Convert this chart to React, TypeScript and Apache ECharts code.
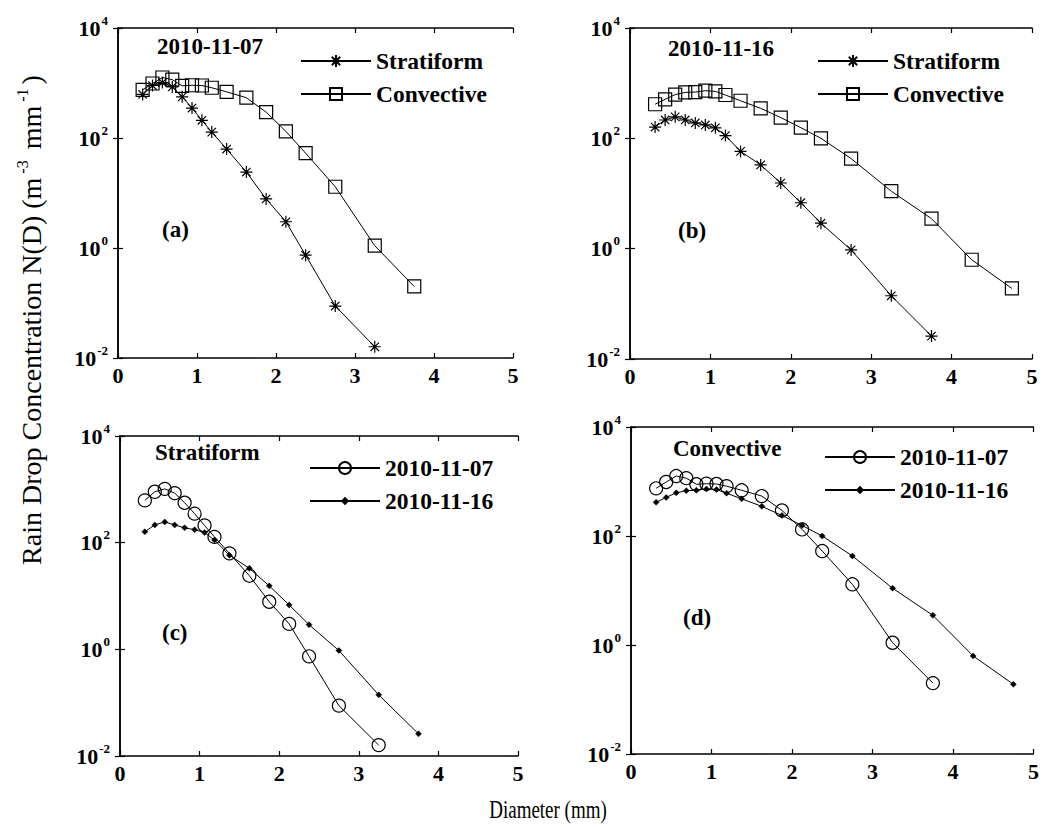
import React, { useEffect, useRef } from "react";
import * as echarts from "echarts";

// Drop diameter bin centres (mm)
const diameters = [0.312, 0.437, 0.562, 0.687, 0.812, 0.937, 1.062, 1.187, 1.375, 1.625, 1.875, 2.125, 2.375, 2.75, 3.25, 3.75, 4.25, 4.75];

// N(D) values (m^-3 mm^-1)
const strat1107 = [620, 900, 1020, 850, 560, 350, 210, 128, 63, 24, 7.8, 3.0, 0.74, 0.088, 0.016];
const conv1107 = [750, 980, 1260, 1150, 890, 910, 900, 820, 690, 540, 295, 132, 53, 13, 1.1, 0.2];
const strat1116 = [160, 215, 245, 215, 190, 175, 155, 112, 58, 33, 15.5, 6.8, 2.9, 0.95, 0.14, 0.026];
const conv1116 = [415, 510, 620, 680, 690, 730, 710, 610, 480, 350, 238, 156, 100, 43, 11, 3.5, 0.63, 0.19];

const panelLabels = ["(a)", "(b)", "(c)", "(d)"];
const panelTitles = ["2010-11-07", "2010-11-16", "Stratiform", "Convective"];

const FONT = "'Liberation Serif', 'Times New Roman', serif";
const STAR = "path://M5 0L5 10M0 5L10 5M1.5 1.5L8.5 8.5M1.5 8.5L8.5 1.5";

const pairs = (vals: number[]) => vals.map((v, i) => [diameters[i], v]);

const grids = [
  { left: 118, top: 28, width: 395, height: 330 },
  { left: 630, top: 28, width: 402, height: 331 },
  { left: 120, top: 436, width: 398, height: 320 },
  { left: 631, top: 427, width: 404, height: 327 },
];

const styles: Record<string, any> = {
  star: { symbol: STAR, symbolSize: 12, itemStyle: { color: "none", borderColor: "#000", borderWidth: 1.2 } },
  square: { symbol: "rect", symbolSize: 13, itemStyle: { color: "none", borderColor: "#000", borderWidth: 1.2 } },
  circle: { symbol: "circle", symbolSize: 13, itemStyle: { color: "none", borderColor: "#000", borderWidth: 1.2 } },
  dot: { symbol: "diamond", symbolSize: 6, itemStyle: { color: "#000", borderColor: "#000", borderWidth: 0.5 } },
};

export default function App() {
  const ref = useRef<HTMLDivElement>(null);
  useEffect(() => {
    if (!ref.current) return;
    const chart = echarts.init(ref.current, undefined, { renderer: "svg" });

    const xAxis: any[] = [];
    const yAxis: any[] = [];
    grids.forEach((_, g) => {
      const base = {
        gridIndex: g,
        type: "value",
        min: 0,
        max: 5,
        interval: 1,
        axisLine: { show: true, lineStyle: { color: "#000", width: 1.5 } },
        axisTick: { show: true, inside: true, length: 5, lineStyle: { color: "#000", width: 1.2 } },
        splitLine: { show: false },
      };
      xAxis.push({
        ...base,
        position: "bottom",
        axisLabel: { show: true, margin: 6, color: "#000", fontFamily: FONT, fontWeight: "bold", fontSize: 22 },
      });
      xAxis.push({ ...base, position: "top", axisLabel: { show: false } });
      const ybase = {
        gridIndex: g,
        type: "log",
        logBase: 10,
        min: 0.01,
        max: 10000,
        interval: 2,
        axisLine: { show: true, lineStyle: { color: "#000", width: 1.5 } },
        axisTick: { show: true, inside: true, length: 5, lineStyle: { color: "#000", width: 1.2 } },
        splitLine: { show: false },
        minorTick: { show: false },
      };
      yAxis.push({
        ...ybase,
        position: "left",
        axisLabel: {
          show: true,
          margin: 10,
          color: "#000",
          formatter: (v: number) => `{b|10}{s|${Math.round(Math.log10(v))}}`,
          rich: {
            b: { fontFamily: FONT, fontWeight: "bold", fontSize: 22, color: "#000" },
            s: { fontFamily: FONT, fontWeight: "bold", fontSize: 13, color: "#000", padding: [0, 0, 16, 1] },
          },
        },
      });
      yAxis.push({ ...ybase, position: "right", axisLabel: { show: false } });
    });

    const mk = (name: string, vals: number[], g: number, st: string) => ({
      name,
      type: "line",
      xAxisIndex: g * 2,
      yAxisIndex: g * 2,
      data: pairs(vals),
      ...styles[st],
      lineStyle: { color: "#000", width: 1 },
      color: "#000",
      emphasis: { disabled: true },
      z: st === "dot" ? 3 : 2,
    });

    const series = [
      mk("Stratiform", strat1107, 0, "star"),
      mk("Convective", conv1107, 0, "square"),
      mk("Stratiform", strat1116, 1, "star"),
      mk("Convective", conv1116, 1, "square"),
      mk("2010-11-07", strat1107, 2, "circle"),
      mk("2010-11-16", strat1116, 2, "dot"),
      mk("2010-11-07", conv1107, 3, "circle"),
      mk("2010-11-16", conv1116, 3, "dot"),
    ];

    // one legend entry each: [name, left, row centre y, itemHeight]
    const legendItems: [string, number, number, number][] = [
      ["Stratiform", 300, 61, 15],
      ["Convective", 300, 94, 15],
      ["Stratiform", 817, 61, 15],
      ["Convective", 817, 94, 15],
      ["2010-11-07", 309, 468, 15],
      ["2010-11-16", 309, 501, 7],
      ["2010-11-07", 824, 457, 15],
      ["2010-11-16", 824, 490, 7],
    ];
    const legend = legendItems.map(([name, left, cy, h]) => ({
      data: [name],
      left,
      top: cy - 12.5,
      orient: "vertical",
      itemWidth: 70,
      itemHeight: h,
      padding: 0,
      selectedMode: false,
      textStyle: { fontFamily: FONT, fontWeight: "bold", fontSize: 23.5, color: "#000", lineHeight: 25 },
    }));

    const titlePos = [
      [157, 47],
      [668, 49],
      [155, 453],
      [673, 449],
    ];
    const labelPos = [
      [162, 230],
      [678, 231],
      [162, 633],
      [683, 618],
    ];
    const graphic: any[] = [];
    panelTitles.forEach((t, i) => {
      graphic.push({
        type: "text",
        left: titlePos[i][0],
        top: titlePos[i][1] - 12,
        style: { text: t, font: `bold 23px ${FONT}`, fill: "#000" },
      });
    });
    panelLabels.forEach((t, i) => {
      graphic.push({
        type: "text",
        left: labelPos[i][0],
        top: labelPos[i][1] - 12,
        style: { text: t, font: `bold 23px ${FONT}`, fill: "#000" },
      });
    });
    graphic.push({
      type: "text",
      x: 31,
      y: 320,
      rotation: Math.PI / 2,
      style: {
        text: "Rain Drop Concentration N(D) (m{s|-3} mm{s|-1})",
        font: `28px ${FONT}`,
        fill: "#000",
        align: "center",
        verticalAlign: "middle",
        rich: {
          s: { fontFamily: FONT, fontSize: 16, fill: "#000", padding: [0, 4, 18, 4] },
        },
      },
    });
    graphic.push({
      type: "text",
      x: 548,
      y: 810,
      scaleY: 1.3,
      style: {
        text: "Diameter (mm)",
        font: `19px ${FONT}`,
        fill: "#000",
        align: "center",
        verticalAlign: "middle",
      },
    });

    chart.setOption({
      animation: false,
      backgroundColor: "#fff",
      grid: grids.map((g) => ({ ...g, containLabel: false })),
      xAxis,
      yAxis,
      series,
      legend,
      graphic,
    });
    return () => chart.dispose();
  }, []);
  return <div ref={ref} style={{ position: "absolute", left: 0, top: 0, width: 1042, height: 827 }} />;
}
